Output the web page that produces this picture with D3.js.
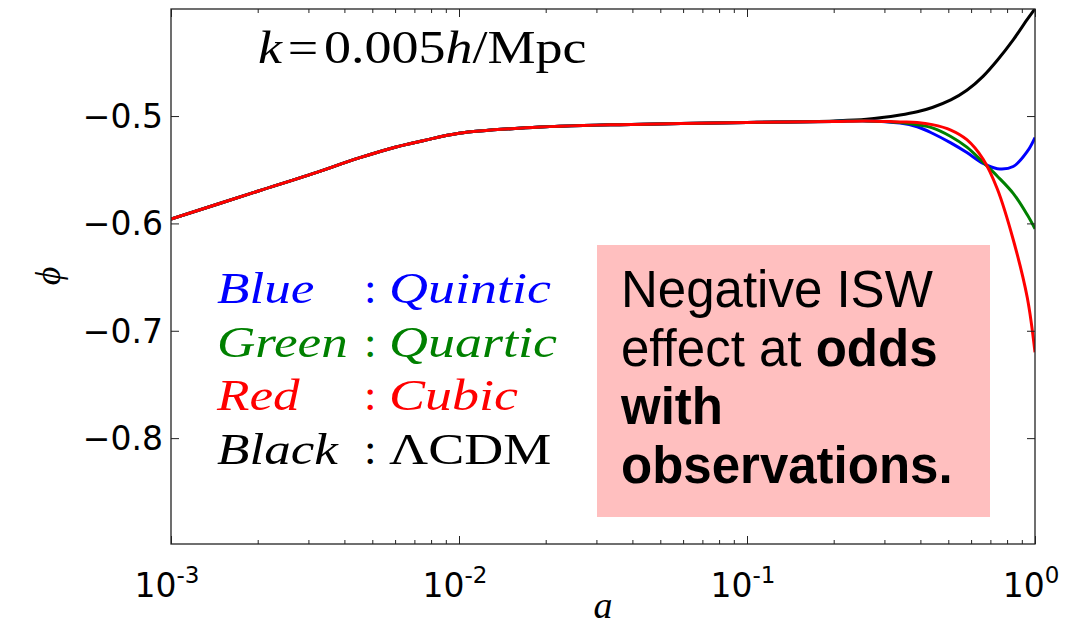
<!DOCTYPE html>
<html>
<head>
  <meta charset="utf-8">
  <title>phi vs a</title>
  <style>
  body { margin: 0; background: #fff; }
  .frame { fill: none; stroke: #222; stroke-width: 1.3px; }
  .curve { fill: none; stroke-width: 3px; stroke-linejoin: round; }
  .tick line { stroke: #222; stroke-width: 1px; }
  .domain { display: none; }
  .ticklab { font-family: "DejaVu Sans", sans-serif; font-size: 33px; fill: #000; }
  .math { font-family: "Liberation Serif", serif; }
  </style>
</head>
<body>
  <svg width="1067" height="627"></svg>
  <script src="https://cdn.jsdelivr.net/npm/d3@7"></script>
  <script>
  // data
  var aGrid    = [0.001, 0.002, 0.003, 0.0045, 0.006, 0.0075, 0.01, 0.017, 0.036, 0.1, 0.2, 0.26, 0.34, 0.39, 0.44, 0.51, 0.58, 0.66, 0.74, 0.84, 0.94, 1.0];
  var phiBlack = [-0.596, -0.570, -0.555, -0.539, -0.529, -0.523, -0.516, -0.511, -0.508, -0.506, -0.5045, -0.503, -0.499, -0.496, -0.492, -0.485, -0.476, -0.463, -0.448, -0.429, -0.410, -0.400];
  var phiBlue  = [-0.596, -0.570, -0.555, -0.539, -0.529, -0.523, -0.516, -0.511, -0.508, -0.506, -0.505, -0.5045, -0.5065, -0.510, -0.516, -0.525, -0.534, -0.544, -0.549, -0.547, -0.533, -0.520];
  var phiGreen = [-0.596, -0.570, -0.555, -0.539, -0.529, -0.523, -0.516, -0.511, -0.508, -0.506, -0.505, -0.5045, -0.506, -0.508, -0.511, -0.519, -0.529, -0.543, -0.556, -0.572, -0.592, -0.605];
  var phiRed   = [-0.596, -0.570, -0.555, -0.539, -0.529, -0.523, -0.516, -0.511, -0.508, -0.506, -0.505, -0.5045, -0.5055, -0.506, -0.508, -0.513, -0.522, -0.540, -0.568, -0.615, -0.669, -0.720];
  var xMajor = [1e-3, 1e-2, 1e-1, 1];
  var xExp   = ["-3", "-2", "-1", "0"];
  var yMajor = [-0.5, -0.6, -0.7, -0.8];

  var series = [
    { name: "Black", values: phiBlack, color: "#000000" },
    { name: "Blue",  values: phiBlue,  color: "#0000ff" },
    { name: "Green", values: phiGreen, color: "#008000" },
    { name: "Red",   values: phiRed,   color: "#ff0000" }
  ];

  var legendRows = [
    { left: "Blue",  right: "Quintic", color: "#0000ff", italic: true },
    { left: "Green", right: "Quartic", color: "#008000", italic: true },
    { left: "Red",   right: "Cubic",   color: "#ff0000", italic: true },
    { left: "Black", right: "\u039BCDM", color: "#000000", italic: false }
  ];

  var boxLines = [
    [{ t: "Negative ISW", b: false }],
    [{ t: "effect at ", b: false }, { t: "odds", b: true }],
    [{ t: "with", b: true }],
    [{ t: "observations.", b: true }]
  ];

  var L = 171, R = 1035, T = 9, B = 544;
  var svg = d3.select("svg");

  var x = d3.scaleLog().domain([1e-3, 1]).range([L, R]);
  var y = d3.scaleLinear().domain([-0.9, -0.4]).range([B + 1.5, T - 0.3]);

  svg.append("clipPath").attr("id", "clip")
    .append("rect").attr("x", L).attr("y", T).attr("width", R - L).attr("height", B - T);

  // curves
  var line = d3.line()
    .x(function(d) { return x(d[0]); })
    .y(function(d) { return y(d[1]); })
    .curve(d3.curveCatmullRom.alpha(0.5));

  svg.append("g").attr("clip-path", "url(#clip)")
    .selectAll("path")
    .data(series)
    .enter()
    .append("path")
    .attr("class", "curve")
    .attr("stroke", function(d) { return d.color; })
    .attr("d", function(d) { return line(aGrid.map(function(a, i) { return [a, d.values[i]]; })); });

  // ticks (inward, all four sides)
  var xMinor = x.ticks().filter(function(v) { return xMajor.indexOf(v) < 0; });
  svg.append("g").attr("transform", "translate(0," + B + ")")
    .call(d3.axisBottom(x).tickValues(xMajor).tickSize(-8).tickFormat(""));
  svg.append("g").attr("transform", "translate(0," + B + ")")
    .call(d3.axisBottom(x).tickValues(xMinor).tickSize(-4).tickFormat(""));
  svg.append("g").attr("transform", "translate(0," + T + ")")
    .call(d3.axisTop(x).tickValues(xMajor).tickSize(-8).tickFormat(""));
  svg.append("g").attr("transform", "translate(0," + T + ")")
    .call(d3.axisTop(x).tickValues(xMinor).tickSize(-4).tickFormat(""));
  svg.append("g").attr("transform", "translate(" + L + ",0)")
    .call(d3.axisLeft(y).tickValues(yMajor).tickSize(-8).tickFormat(""));
  svg.append("g").attr("transform", "translate(" + R + ",0)")
    .call(d3.axisRight(y).tickValues(yMajor).tickSize(-8).tickFormat(""));

  svg.append("rect").attr("class", "frame")
    .attr("x", L).attr("y", T).attr("width", R - L).attr("height", B - T);

  // tick labels
  svg.selectAll(".ylab").data(yMajor).enter()
    .append("text").attr("class", "ticklab")
    .attr("x", L - 8)
    .attr("y", function(d) { return y(d) + 12; })
    .attr("text-anchor", "end")
    .text(function(d) { return "\u2212" + Math.abs(d).toFixed(1); });

  var xl = svg.selectAll(".xlab").data(xMajor).enter()
    .append("text").attr("class", "ticklab")
    .attr("x", function(d) { return x(d) - 4; })
    .attr("y", B + 53)
    .attr("text-anchor", "middle");
  xl.append("tspan").text("10");
  xl.append("tspan").attr("dy", -14).style("font-size", "23px")
    .text(function(d, i) { return xExp[i]; });

  // axis labels
  svg.append("text").attr("class", "math")
    .attr("x", 603).attr("y", 618)
    .attr("text-anchor", "middle")
    .style("font-size", "38px").style("font-style", "italic")
    .text("a");
  svg.append("text").attr("class", "math")
    .attr("transform", "translate(60,276) rotate(-90)")
    .attr("text-anchor", "middle")
    .style("font-size", "36px").style("font-style", "italic")
    .text("\u03D5");

  // title inside
  var title = svg.append("text").attr("class", "math")
    .attr("transform", "translate(258,63) scale(1.15,1)")
    .style("font-size", "47px");
  title.append("tspan").style("font-style", "italic").text("k");
  title.append("tspan").attr("dx", 5).text("=");
  title.append("tspan").attr("dx", 5).text("0.005");
  title.append("tspan").style("font-style", "italic").text("h");
  title.append("tspan").text("/Mpc");

  // legend text
  var lg = svg.append("g").attr("class", "math").style("font-size", "45px");
  legendRows.forEach(function(r, i) {
    var yy = 303 + i * 53.5;
    lg.append("text").attr("transform", "translate(217," + yy + ") scale(1.18,1)")
      .attr("fill", r.color).style("font-style", "italic").text(r.left);
    lg.append("text").attr("x", 364).attr("y", yy).attr("fill", r.color).text(":");
    lg.append("text").attr("transform", "translate(389," + yy + ") scale(1.2,1)")
      .attr("fill", r.color)
      .style("font-style", r.italic ? "italic" : "normal").text(r.right);
  });

  // pink note box
  svg.append("rect").attr("x", 597).attr("y", 245).attr("width", 393).attr("height", 272)
    .attr("fill", "#ffbfbf");
  boxLines.forEach(function(parts, i) {
    var t = svg.append("text").attr("x", 621).attr("y", 307 + i * 58.5)
      .style("font-family", "'Liberation Sans', Arial, sans-serif")
      .style("font-size", "51px").attr("fill", "#000");
    parts.forEach(function(p) {
      t.append("tspan").style("font-weight", p.b ? "bold" : "normal").text(p.t);
    });
  });
  </script>
</body>
</html>
